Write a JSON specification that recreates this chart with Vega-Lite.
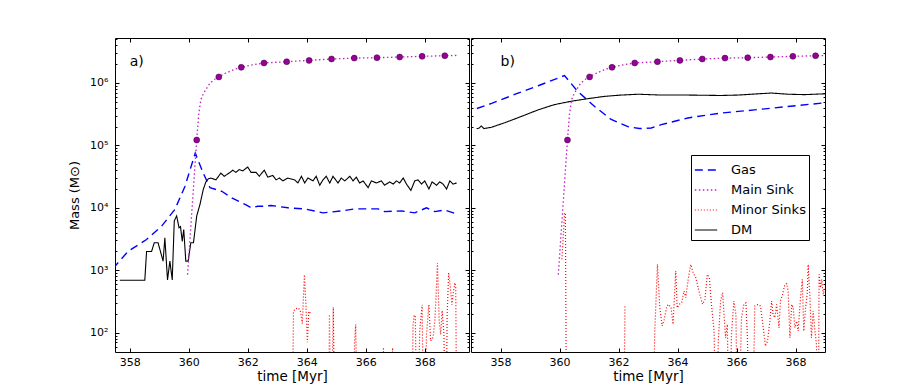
{
  "$schema": "https://vega.github.io/schema/vega-lite/v6.json",
  "padding": {"left": 68, "top": 37, "right": 5, "bottom": 5},
  "background": "white",
  "config": {
    "font": "DejaVu Sans",
    "view": {"stroke": "black", "strokeWidth": 1},
    "axis": {"grid": false, "domain": false, "tickColor": "black", "tickWidth": 1, "labelColor": "black", "titleColor": "black", "labelFont": "DejaVu Sans", "titleFont": "DejaVu Sans", "labelFontSize": 11, "titleFontSize": 13, "titleFontWeight": "normal"}
  },
  "datasets": {
    "a": [
      {"series":"Gas","seg":0,"time":357.45,"mass":1050},{"series":"Gas","seg":0,"time":357.5,"mass":1160},{"series":"Gas","seg":0,"time":357.94,"mass":2000},{"series":"Gas","seg":0,"time":358.57,"mass":3100},{"series":"Gas","seg":0,"time":359.08,"mass":5100},{"series":"Gas","seg":0,"time":359.53,"mass":9400},{"series":"Gas","seg":0,"time":359.87,"mass":22000},{"series":"Gas","seg":0,"time":360.22,"mass":75000},{"series":"Gas","seg":0,"time":360.49,"mass":36000},{"series":"Gas","seg":0,"time":360.72,"mass":21000},{"series":"Gas","seg":0,"time":361.12,"mass":18400},{"series":"Gas","seg":0,"time":361.46,"mass":14400},{"series":"Gas","seg":0,"time":361.91,"mass":11300},{"series":"Gas","seg":0,"time":362.13,"mass":10000},{"series":"Gas","seg":0,"time":362.34,"mass":10600},{"series":"Gas","seg":0,"time":362.53,"mass":10600},{"series":"Gas","seg":0,"time":362.79,"mass":10900},{"series":"Gas","seg":0,"time":363.36,"mass":10000},{"series":"Gas","seg":0,"time":363.92,"mass":9600},{"series":"Gas","seg":0,"time":364.26,"mass":8900},{"series":"Gas","seg":0,"time":364.55,"mass":8300},{"series":"Gas","seg":0,"time":365.17,"mass":8900},{"series":"Gas","seg":0,"time":365.62,"mass":9600},{"series":"Gas","seg":0,"time":366.19,"mass":9600},{"series":"Gas","seg":0,"time":366.42,"mass":9600},{"series":"Gas","seg":0,"time":366.64,"mass":8700},{"series":"Gas","seg":0,"time":367.21,"mass":8900},{"series":"Gas","seg":0,"time":367.66,"mass":8300},{"series":"Gas","seg":0,"time":368.06,"mass":10000},{"series":"Gas","seg":0,"time":368.34,"mass":8700},{"series":"Gas","seg":0,"time":368.68,"mass":9200},{"series":"Gas","seg":0,"time":369.08,"mass":8000},
      {"series":"DM","seg":0,"time":357.66,"mass":690},{"series":"DM","seg":0,"time":358.51,"mass":690},{"series":"DM","seg":0,"time":358.57,"mass":2000},{"series":"DM","seg":0,"time":358.74,"mass":2000},{"series":"DM","seg":0,"time":358.83,"mass":2750},{"series":"DM","seg":0,"time":358.96,"mass":2750},{"series":"DM","seg":0,"time":359.13,"mass":1400},{"series":"DM","seg":0,"time":359.19,"mass":3300},{"series":"DM","seg":0,"time":359.28,"mass":700},{"series":"DM","seg":0,"time":359.36,"mass":1400},{"series":"DM","seg":0,"time":359.44,"mass":700},{"series":"DM","seg":0,"time":359.51,"mass":6200},{"series":"DM","seg":0,"time":359.59,"mass":7400},{"series":"DM","seg":0,"time":359.67,"mass":4800},{"series":"DM","seg":0,"time":359.72,"mass":5000},{"series":"DM","seg":0,"time":359.78,"mass":2900},{"series":"DM","seg":0,"time":359.83,"mass":4500},{"series":"DM","seg":0,"time":359.9,"mass":1400},{"series":"DM","seg":0,"time":359.98,"mass":1400},{"series":"DM","seg":0,"time":360.07,"mass":2750},{"series":"DM","seg":0,"time":360.16,"mass":2750},{"series":"DM","seg":0,"time":360.27,"mass":7400},{"series":"DM","seg":0,"time":360.38,"mass":11300},{"series":"DM","seg":0,"time":360.49,"mass":19500},{"series":"DM","seg":0,"time":360.58,"mass":26000},{"series":"DM","seg":0,"time":360.66,"mass":29000},{"series":"DM","seg":0,"time":360.75,"mass":30000},{"series":"DM","seg":0,"time":360.92,"mass":28000},{"series":"DM","seg":0,"time":361.09,"mass":36000},{"series":"DM","seg":0,"time":361.2,"mass":32000},{"series":"DM","seg":0,"time":361.37,"mass":36000},{"series":"DM","seg":0,"time":361.49,"mass":40000},{"series":"DM","seg":0,"time":361.6,"mass":37000},{"series":"DM","seg":0,"time":361.71,"mass":41000},{"series":"DM","seg":0,"time":361.83,"mass":39000},{"series":"DM","seg":0,"time":362.0,"mass":45000},{"series":"DM","seg":0,"time":362.11,"mass":37000},{"series":"DM","seg":0,"time":362.28,"mass":37000},{"series":"DM","seg":0,"time":362.39,"mass":32000},{"series":"DM","seg":0,"time":362.56,"mass":40000},{"series":"DM","seg":0,"time":362.68,"mass":31000},{"series":"DM","seg":0,"time":362.85,"mass":33000},{"series":"DM","seg":0,"time":362.96,"mass":28000},{"series":"DM","seg":0,"time":363.07,"mass":30000},{"series":"DM","seg":0,"time":363.19,"mass":27000},{"series":"DM","seg":0,"time":363.36,"mass":30000},{"series":"DM","seg":0,"time":363.59,"mass":28000},{"series":"DM","seg":0,"time":363.7,"mass":25000},{"series":"DM","seg":0,"time":363.82,"mass":32000},{"series":"DM","seg":0,"time":363.93,"mass":25000},{"series":"DM","seg":0,"time":364.04,"mass":30000},{"series":"DM","seg":0,"time":364.21,"mass":27000},{"series":"DM","seg":0,"time":364.32,"mass":32000},{"series":"DM","seg":0,"time":364.44,"mass":23000},{"series":"DM","seg":0,"time":364.55,"mass":28000},{"series":"DM","seg":0,"time":364.66,"mass":32000},{"series":"DM","seg":0,"time":364.78,"mass":25000},{"series":"DM","seg":0,"time":364.89,"mass":32000},{"series":"DM","seg":0,"time":365.06,"mass":25000},{"series":"DM","seg":0,"time":365.17,"mass":30000},{"series":"DM","seg":0,"time":365.29,"mass":27000},{"series":"DM","seg":0,"time":365.46,"mass":32000},{"series":"DM","seg":0,"time":365.57,"mass":27000},{"series":"DM","seg":0,"time":365.68,"mass":31000},{"series":"DM","seg":0,"time":365.79,"mass":25000},{"series":"DM","seg":0,"time":365.91,"mass":27000},{"series":"DM","seg":0,"time":366.08,"mass":21000},{"series":"DM","seg":0,"time":366.19,"mass":27000},{"series":"DM","seg":0,"time":366.36,"mass":25000},{"series":"DM","seg":0,"time":366.53,"mass":27000},{"series":"DM","seg":0,"time":366.64,"mass":23000},{"series":"DM","seg":0,"time":366.81,"mass":26000},{"series":"DM","seg":0,"time":366.93,"mass":24000},{"series":"DM","seg":0,"time":367.04,"mass":27000},{"series":"DM","seg":0,"time":367.15,"mass":25000},{"series":"DM","seg":0,"time":367.27,"mass":30000},{"series":"DM","seg":0,"time":367.38,"mass":24000},{"series":"DM","seg":0,"time":367.53,"mass":19000},{"series":"DM","seg":0,"time":367.66,"mass":27000},{"series":"DM","seg":0,"time":367.77,"mass":28000},{"series":"DM","seg":0,"time":367.89,"mass":24000},{"series":"DM","seg":0,"time":368.0,"mass":27000},{"series":"DM","seg":0,"time":368.14,"mass":20000},{"series":"DM","seg":0,"time":368.25,"mass":26000},{"series":"DM","seg":0,"time":368.4,"mass":23000},{"series":"DM","seg":0,"time":368.51,"mass":26000},{"series":"DM","seg":0,"time":368.62,"mass":24000},{"series":"DM","seg":0,"time":368.74,"mass":20000},{"series":"DM","seg":0,"time":368.85,"mass":27000},{"series":"DM","seg":0,"time":368.96,"mass":24000},{"series":"DM","seg":0,"time":369.08,"mass":25000},
      {"series":"Minor Sinks","seg":1,"time":363.5,"mass":1},{"series":"Minor Sinks","seg":1,"time":363.55,"mass":220},{"series":"Minor Sinks","seg":1,"time":363.62,"mass":240},{"series":"Minor Sinks","seg":1,"time":363.7,"mass":250},{"series":"Minor Sinks","seg":1,"time":363.78,"mass":230},{"series":"Minor Sinks","seg":1,"time":363.85,"mass":140},{"series":"Minor Sinks","seg":1,"time":363.92,"mass":850},{"series":"Minor Sinks","seg":1,"time":363.97,"mass":300},{"series":"Minor Sinks","seg":1,"time":364.02,"mass":70},{"series":"Minor Sinks","seg":1,"time":364.07,"mass":220},{"series":"Minor Sinks","seg":1,"time":364.14,"mass":200},
      {"series":"Minor Sinks","seg":2,"time":364.74,"mass":1},{"series":"Minor Sinks","seg":2,"time":364.77,"mass":195},{"series":"Minor Sinks","seg":2,"time":364.82,"mass":1},{"series":"Minor Sinks","seg":2,"time":364.9,"mass":255},{"series":"Minor Sinks","seg":2,"time":364.96,"mass":1},
      {"series":"Minor Sinks","seg":3,"time":365.58,"mass":1},{"series":"Minor Sinks","seg":3,"time":365.62,"mass":70},{"series":"Minor Sinks","seg":3,"time":365.66,"mass":135},{"series":"Minor Sinks","seg":3,"time":365.72,"mass":1},
      {"series":"Minor Sinks","seg":4,"time":366.58,"mass":1},{"series":"Minor Sinks","seg":4,"time":366.6,"mass":58},{"series":"Minor Sinks","seg":4,"time":366.62,"mass":1},
      {"series":"Minor Sinks","seg":5,"time":366.89,"mass":1},{"series":"Minor Sinks","seg":5,"time":366.91,"mass":57},{"series":"Minor Sinks","seg":5,"time":366.93,"mass":1},
      {"series":"Minor Sinks","seg":6,"time":367.57,"mass":1},{"series":"Minor Sinks","seg":6,"time":367.6,"mass":128},{"series":"Minor Sinks","seg":6,"time":367.64,"mass":185},{"series":"Minor Sinks","seg":6,"time":367.68,"mass":190},{"series":"Minor Sinks","seg":6,"time":367.74,"mass":1},{"series":"Minor Sinks","seg":6,"time":367.83,"mass":107},{"series":"Minor Sinks","seg":6,"time":367.91,"mass":280},{"series":"Minor Sinks","seg":6,"time":367.97,"mass":1},{"series":"Minor Sinks","seg":6,"time":368.06,"mass":94},{"series":"Minor Sinks","seg":6,"time":368.14,"mass":280},{"series":"Minor Sinks","seg":6,"time":368.2,"mass":74},{"series":"Minor Sinks","seg":6,"time":368.28,"mass":84},{"series":"Minor Sinks","seg":6,"time":368.34,"mass":155},{"series":"Minor Sinks","seg":6,"time":368.37,"mass":280},{"series":"Minor Sinks","seg":6,"time":368.43,"mass":1300},{"series":"Minor Sinks","seg":6,"time":368.49,"mass":155},{"series":"Minor Sinks","seg":6,"time":368.54,"mass":94},{"series":"Minor Sinks","seg":6,"time":368.59,"mass":225},{"series":"Minor Sinks","seg":6,"time":368.65,"mass":94},{"series":"Minor Sinks","seg":6,"time":368.71,"mass":1},{"series":"Minor Sinks","seg":6,"time":368.76,"mass":195},{"series":"Minor Sinks","seg":6,"time":368.81,"mass":910},{"series":"Minor Sinks","seg":6,"time":368.87,"mass":525},{"series":"Minor Sinks","seg":6,"time":368.92,"mass":280},{"series":"Minor Sinks","seg":6,"time":368.96,"mass":410},{"series":"Minor Sinks","seg":6,"time":369.02,"mass":630},{"series":"Minor Sinks","seg":6,"time":369.05,"mass":525},{"series":"Minor Sinks","seg":6,"time":369.09,"mass":1}
    ],
    "b": [
      {"series":"Gas","seg":0,"time":357.2,"mass":390000},{"series":"Gas","seg":0,"time":357.7,"mass":470000},{"series":"Gas","seg":0,"time":358.5,"mass":660000},{"series":"Gas","seg":0,"time":359.3,"mass":910000},{"series":"Gas","seg":0,"time":360.11,"mass":1280000},{"series":"Gas","seg":0,"time":360.17,"mass":1310000},{"series":"Gas","seg":0,"time":360.62,"mass":730000},{"series":"Gas","seg":0,"time":361.19,"mass":420000},{"series":"Gas","seg":0,"time":361.75,"mass":260000},{"series":"Gas","seg":0,"time":362.32,"mass":200000},{"series":"Gas","seg":0,"time":362.71,"mass":186000},{"series":"Gas","seg":0,"time":363.11,"mass":190000},{"series":"Gas","seg":0,"time":363.45,"mass":215000},{"series":"Gas","seg":0,"time":364.35,"mass":275000},{"series":"Gas","seg":0,"time":365.48,"mass":330000},{"series":"Gas","seg":0,"time":366.61,"mass":370000},{"series":"Gas","seg":0,"time":367.74,"mass":420000},{"series":"Gas","seg":0,"time":368.98,"mass":480000},{"series":"Gas","seg":0,"time":369.1,"mass":490000},
      {"series":"DM","seg":0,"time":357.19,"mass":184000},{"series":"DM","seg":0,"time":357.28,"mass":190000},{"series":"DM","seg":0,"time":357.35,"mass":205000},{"series":"DM","seg":0,"time":357.44,"mass":186000},{"series":"DM","seg":0,"time":357.69,"mass":195000},{"series":"DM","seg":0,"time":358.14,"mass":230000},{"series":"DM","seg":0,"time":358.7,"mass":290000},{"series":"DM","seg":0,"time":359.27,"mass":370000},{"series":"DM","seg":0,"time":359.83,"mass":450000},{"series":"DM","seg":0,"time":360.4,"mass":510000},{"series":"DM","seg":0,"time":360.96,"mass":560000},{"series":"DM","seg":0,"time":361.53,"mass":610000},{"series":"DM","seg":0,"time":362.09,"mass":640000},{"series":"DM","seg":0,"time":362.66,"mass":660000},{"series":"DM","seg":0,"time":363.45,"mass":640000},{"series":"DM","seg":0,"time":364.35,"mass":640000},{"series":"DM","seg":0,"time":365.48,"mass":630000},{"series":"DM","seg":0,"time":366.05,"mass":640000},{"series":"DM","seg":0,"time":367.18,"mass":690000},{"series":"DM","seg":0,"time":367.74,"mass":660000},{"series":"DM","seg":0,"time":368.31,"mass":650000},{"series":"DM","seg":0,"time":369.0,"mass":670000},
      {"series":"Minor Sinks","seg":1,"time":360.08,"mass":1500},{"series":"Minor Sinks","seg":1,"time":360.12,"mass":3000},{"series":"Minor Sinks","seg":1,"time":360.17,"mass":8000},{"series":"Minor Sinks","seg":1,"time":360.2,"mass":8300},{"series":"Minor Sinks","seg":1,"time":360.24,"mass":1},
      {"series":"Minor Sinks","seg":2,"time":362.17,"mass":1},{"series":"Minor Sinks","seg":2,"time":362.22,"mass":280},
      {"series":"Minor Sinks","seg":3,"time":363.15,"mass":1},{"series":"Minor Sinks","seg":3,"time":363.23,"mass":106},{"series":"Minor Sinks","seg":3,"time":363.32,"mass":1240},{"series":"Minor Sinks","seg":3,"time":363.4,"mass":250},{"series":"Minor Sinks","seg":3,"time":363.48,"mass":128},{"series":"Minor Sinks","seg":3,"time":363.55,"mass":163},{"series":"Minor Sinks","seg":3,"time":363.63,"mass":250},{"series":"Minor Sinks","seg":3,"time":363.68,"mass":284},{"series":"Minor Sinks","seg":3,"time":363.78,"mass":257},{"series":"Minor Sinks","seg":3,"time":363.85,"mass":136},{"series":"Minor Sinks","seg":3,"time":363.94,"mass":970},{"series":"Minor Sinks","seg":3,"time":363.99,"mass":250},{"series":"Minor Sinks","seg":3,"time":364.06,"mass":284},{"series":"Minor Sinks","seg":3,"time":364.14,"mass":300},{"series":"Minor Sinks","seg":3,"time":364.22,"mass":464},{"series":"Minor Sinks","seg":3,"time":364.28,"mass":363},{"series":"Minor Sinks","seg":3,"time":364.37,"mass":760},{"series":"Minor Sinks","seg":3,"time":364.45,"mass":1240},{"series":"Minor Sinks","seg":3,"time":364.53,"mass":912},{"series":"Minor Sinks","seg":3,"time":364.62,"mass":760},{"series":"Minor Sinks","seg":3,"time":364.74,"mass":437},{"series":"Minor Sinks","seg":3,"time":364.85,"mass":284},{"series":"Minor Sinks","seg":3,"time":364.93,"mass":341},{"series":"Minor Sinks","seg":3,"time":365.01,"mass":857},{"series":"Minor Sinks","seg":3,"time":365.08,"mass":760},{"series":"Minor Sinks","seg":3,"time":365.15,"mass":284},{"series":"Minor Sinks","seg":3,"time":365.24,"mass":106},{"series":"Minor Sinks","seg":3,"time":365.32,"mass":1},{"series":"Minor Sinks","seg":3,"time":365.38,"mass":69},{"series":"Minor Sinks","seg":3,"time":365.46,"mass":321},{"series":"Minor Sinks","seg":3,"time":365.53,"mass":437},{"series":"Minor Sinks","seg":3,"time":365.57,"mass":222},{"series":"Minor Sinks","seg":3,"time":365.63,"mass":83},{"series":"Minor Sinks","seg":3,"time":365.69,"mass":136},{"series":"Minor Sinks","seg":3,"time":365.75,"mass":1},{"series":"Minor Sinks","seg":3,"time":365.83,"mass":94},{"series":"Minor Sinks","seg":3,"time":365.91,"mass":321},{"series":"Minor Sinks","seg":3,"time":365.98,"mass":196},{"series":"Minor Sinks","seg":3,"time":366.05,"mass":1},{"series":"Minor Sinks","seg":3,"time":366.17,"mass":174},{"series":"Minor Sinks","seg":3,"time":366.25,"mass":284},{"series":"Minor Sinks","seg":3,"time":366.32,"mass":300},{"series":"Minor Sinks","seg":3,"time":366.37,"mass":83},{"series":"Minor Sinks","seg":3,"time":366.45,"mass":1},{"series":"Minor Sinks","seg":3,"time":366.53,"mass":1},{"series":"Minor Sinks","seg":3,"time":366.62,"mass":267},{"series":"Minor Sinks","seg":3,"time":366.73,"mass":284},{"series":"Minor Sinks","seg":3,"time":366.81,"mass":267},{"series":"Minor Sinks","seg":3,"time":366.9,"mass":128},{"series":"Minor Sinks","seg":3,"time":366.98,"mass":61},{"series":"Minor Sinks","seg":3,"time":367.05,"mass":73},{"series":"Minor Sinks","seg":3,"time":367.13,"mass":153},{"series":"Minor Sinks","seg":3,"time":367.19,"mass":321},{"series":"Minor Sinks","seg":3,"time":367.24,"mass":196},{"series":"Minor Sinks","seg":3,"time":367.3,"mass":174},{"series":"Minor Sinks","seg":3,"time":367.36,"mass":284},{"series":"Minor Sinks","seg":3,"time":367.44,"mass":120},{"series":"Minor Sinks","seg":3,"time":367.49,"mass":321},{"series":"Minor Sinks","seg":3,"time":367.56,"mass":410},{"series":"Minor Sinks","seg":3,"time":367.64,"mass":593},{"series":"Minor Sinks","seg":3,"time":367.7,"mass":610},{"series":"Minor Sinks","seg":3,"time":367.75,"mass":464},{"series":"Minor Sinks","seg":3,"time":367.81,"mass":83},{"series":"Minor Sinks","seg":3,"time":367.87,"mass":284},{"series":"Minor Sinks","seg":3,"time":367.92,"mass":250},{"series":"Minor Sinks","seg":3,"time":367.98,"mass":120},{"series":"Minor Sinks","seg":3,"time":368.04,"mass":153},{"series":"Minor Sinks","seg":3,"time":368.09,"mass":106},{"series":"Minor Sinks","seg":3,"time":368.17,"mass":363},{"series":"Minor Sinks","seg":3,"time":368.23,"mass":713},{"series":"Minor Sinks","seg":3,"time":368.28,"mass":106},{"series":"Minor Sinks","seg":3,"time":368.34,"mass":250},{"series":"Minor Sinks","seg":3,"time":368.4,"mass":437},{"series":"Minor Sinks","seg":3,"time":368.43,"mass":1240},{"series":"Minor Sinks","seg":3,"time":368.49,"mass":363},{"series":"Minor Sinks","seg":3,"time":368.54,"mass":83},{"series":"Minor Sinks","seg":3,"time":368.6,"mass":222},{"series":"Minor Sinks","seg":3,"time":368.66,"mass":106},{"series":"Minor Sinks","seg":3,"time":368.71,"mass":65},{"series":"Minor Sinks","seg":3,"time":368.77,"mass":1},{"series":"Minor Sinks","seg":3,"time":368.8,"mass":857},{"series":"Minor Sinks","seg":3,"time":368.85,"mass":525},{"series":"Minor Sinks","seg":3,"time":368.89,"mass":713},{"series":"Minor Sinks","seg":3,"time":368.94,"mass":410},{"series":"Minor Sinks","seg":3,"time":369.0,"mass":525},{"series":"Minor Sinks","seg":3,"time":369.05,"mass":600}
    ],
    "ms": [
      {"series":"Main Sink","seg":0,"time":359.96,"mass":850,"mk":0},{"series":"Main Sink","seg":0,"time":360.05,"mass":3600,"mk":0},{"series":"Main Sink","seg":0,"time":360.12,"mass":11000,"mk":0},{"series":"Main Sink","seg":0,"time":360.2,"mass":40000,"mk":0},{"series":"Main Sink","seg":0,"time":360.27,"mass":122000,"mk":1},{"series":"Main Sink","seg":0,"time":360.34,"mass":320000,"mk":0},{"series":"Main Sink","seg":0,"time":360.41,"mass":540000,"mk":0},{"series":"Main Sink","seg":0,"time":360.5,"mass":680000,"mk":0},{"series":"Main Sink","seg":0,"time":360.58,"mass":780000,"mk":0},{"series":"Main Sink","seg":0,"time":360.67,"mass":920000,"mk":0},{"series":"Main Sink","seg":0,"time":360.75,"mass":1020000,"mk":0},{"series":"Main Sink","seg":0,"time":360.88,"mass":1150000,"mk":0},{"series":"Main Sink","seg":0,"time":361.02,"mass":1250000,"mk":1},{"series":"Main Sink","seg":0,"time":361.2,"mass":1400000,"mk":0},{"series":"Main Sink","seg":0,"time":361.43,"mass":1560000,"mk":0},{"series":"Main Sink","seg":0,"time":361.6,"mass":1680000,"mk":0},{"series":"Main Sink","seg":0,"time":361.78,"mass":1780000,"mk":1},{"series":"Main Sink","seg":0,"time":362.15,"mass":1950000,"mk":0},{"series":"Main Sink","seg":0,"time":362.55,"mass":2090000,"mk":1},{"series":"Main Sink","seg":0,"time":363.32,"mass":2190000,"mk":1},{"series":"Main Sink","seg":0,"time":364.08,"mass":2300000,"mk":1},{"series":"Main Sink","seg":0,"time":364.84,"mass":2420000,"mk":1},{"series":"Main Sink","seg":0,"time":365.61,"mass":2500000,"mk":1},{"series":"Main Sink","seg":0,"time":366.38,"mass":2540000,"mk":1},{"series":"Main Sink","seg":0,"time":367.15,"mass":2600000,"mk":1},{"series":"Main Sink","seg":0,"time":367.91,"mass":2670000,"mk":1},{"series":"Main Sink","seg":0,"time":368.68,"mass":2730000,"mk":1},{"series":"Main Sink","seg":0,"time":369.1,"mass":2760000,"mk":0}
    ]
  },
  "spacing": 0,
  "hconcat": [
    {
      "width": 354,
      "height": 314,
      "layer": [
        {
          "data": {"name": "a"},
          "mark": {"type": "line", "clip": true},
          "encoding": {
            "x": {"field": "time", "type": "quantitative", "scale": {"domain": [357.5, 369.5], "nice": false, "zero": false}, "axis": {"orient": "bottom", "values": [358, 360, 362, 364, 366, 368], "tickSize": -4, "labelPadding": 8, "labelFlush": false, "title": "time [Myr]", "titlePadding": 2, "titleFontSize": 13.5}},
            "y": {"field": "mass", "type": "quantitative", "scale": {"type": "log", "domain": [49, 5250000], "nice": false}, "axis": {"orient": "left", "values": [100, 1000, 10000, 100000, 1000000], "tickSize": -4, "labelPadding": 11, "labelExpr": "'10' + ['⁰','¹','²','³','⁴','⁵','⁶','⁷'][round(log(datum.value)/LN10)]", "title": "Mass (M⊙)", "titlePadding": 8}},
            "color": {"field": "series", "type": "nominal", "scale": {"domain": ["Gas", "Main Sink", "Minor Sinks", "DM"], "range": ["#0000ff", "#c020c0", "#ff0000", "#000000"]}, "legend": null},
            "strokeDash": {"field": "series", "type": "nominal", "scale": {"domain": ["Gas", "Main Sink", "Minor Sinks", "DM"], "range": [[8, 5], [1.5, 2.5], [1, 2], [1, 0]]}, "legend": null},
            "strokeWidth": {"field": "series", "type": "nominal", "scale": {"domain": ["Gas", "Main Sink", "Minor Sinks", "DM"], "range": [1.4, 1.1, 1.1, 1.1]}, "legend": null},
            "detail": {"field": "seg", "type": "nominal"}
          }
        },
        {
          "data": {"name": "ms"},
          "mark": {"type": "line", "clip": true},
          "encoding": {
            "x": {"field": "time", "type": "quantitative", "axis": {"orient": "top", "values": [358, 360, 362, 364, 366, 368], "tickSize": -4, "labels": false, "title": null}},
            "y": {"field": "mass", "type": "quantitative", "axis": {"orient": "right", "values": [100, 1000, 10000, 100000, 1000000], "tickSize": -4, "labels": false, "title": null}},
            "color": {"field": "series", "type": "nominal", "legend": null},
            "strokeDash": {"field": "series", "type": "nominal", "legend": null},
            "strokeWidth": {"field": "series", "type": "nominal", "legend": null}
          }
        },
        {
          "data": {"name": "ms"},
          "transform": [{"filter": "datum.mk == 1"}],
          "mark": {"type": "circle", "clip": true, "size": 36, "fill": "#990099", "stroke": "#330033", "strokeWidth": 0.5, "opacity": 1},
          "encoding": {
            "x": {"field": "time", "type": "quantitative", "axis": null},
            "y": {"field": "mass", "type": "quantitative", "axis": {"orient": "left", "values": [60, 70, 80, 90, 200, 300, 400, 500, 600, 700, 800, 900, 2000, 3000, 4000, 5000, 6000, 7000, 8000, 9000, 20000, 30000, 40000, 50000, 60000, 70000, 80000, 90000, 200000, 300000, 400000, 500000, 600000, 700000, 800000, 900000, 2000000, 3000000, 4000000, 5000000], "tickSize": -2, "labels": false, "title": null}}
          }
        },
        {
          "data": {"values": [{"time": 358, "mass": 1900000, "label": "a)"}]},
          "mark": {"type": "text", "align": "left", "baseline": "alphabetic", "fontSize": 14, "font": "DejaVu Sans", "color": "black"},
          "encoding": {
            "x": {"field": "time", "type": "quantitative", "axis": null},
            "y": {"field": "mass", "type": "quantitative", "axis": {"orient": "right", "values": [60, 70, 80, 90, 200, 300, 400, 500, 600, 700, 800, 900, 2000, 3000, 4000, 5000, 6000, 7000, 8000, 9000, 20000, 30000, 40000, 50000, 60000, 70000, 80000, 90000, 200000, 300000, 400000, 500000, 600000, 700000, 800000, 900000, 2000000, 3000000, 4000000, 5000000], "tickSize": -2, "labels": false, "title": null}},
            "text": {"field": "label"}
          }
        }
      ],
      "resolve": {"axis": {"x": "independent", "y": "independent"}}
    },
    {
      "width": 354,
      "height": 314,
      "layer": [
        {
          "data": {"name": "b"},
          "mark": {"type": "line", "clip": true},
          "encoding": {
            "x": {"field": "time", "type": "quantitative", "scale": {"domain": [357, 369], "nice": false, "zero": false}, "axis": {"orient": "bottom", "values": [358, 360, 362, 364, 366, 368], "tickSize": -4, "labelPadding": 8, "labelFlush": false, "title": "time [Myr]", "titlePadding": 2, "titleFontSize": 13.5}},
            "y": {"field": "mass", "type": "quantitative", "scale": {"type": "log", "domain": [49, 5250000], "nice": false}, "axis": {"orient": "left", "values": [100, 1000, 10000, 100000, 1000000], "tickSize": -4, "labels": false, "title": null}},
            "color": {"field": "series", "type": "nominal", "scale": {"domain": ["Gas", "Main Sink", "Minor Sinks", "DM"], "range": ["#0000ff", "#c020c0", "#ff0000", "#000000"]}, "legend": {"orient": "none", "legendX": 220, "legendY": 117, "title": null, "symbolType": "stroke", "symbolSize": 500, "labelFontSize": 13, "labelFont": "DejaVu Sans", "labelColor": "black", "strokeColor": "black", "fillColor": "white", "padding": 3, "rowPadding": 1, "labelOffset": 13, "cornerRadius": 0}},
            "strokeDash": {"field": "series", "type": "nominal", "scale": {"domain": ["Gas", "Main Sink", "Minor Sinks", "DM"], "range": [[8, 5], [1.5, 2.5], [1, 2], [1, 0]]}},
            "strokeWidth": {"field": "series", "type": "nominal", "scale": {"domain": ["Gas", "Main Sink", "Minor Sinks", "DM"], "range": [1.4, 1.1, 1.1, 1.1]}},
            "detail": {"field": "seg", "type": "nominal"}
          }
        },
        {
          "data": {"name": "ms"},
          "mark": {"type": "line", "clip": true},
          "encoding": {
            "x": {"field": "time", "type": "quantitative", "axis": {"orient": "top", "values": [358, 360, 362, 364, 366, 368], "tickSize": -4, "labels": false, "title": null}},
            "y": {"field": "mass", "type": "quantitative", "axis": {"orient": "right", "values": [100, 1000, 10000, 100000, 1000000], "tickSize": -4, "labels": false, "title": null}},
            "color": {"field": "series", "type": "nominal"},
            "strokeDash": {"field": "series", "type": "nominal"},
            "strokeWidth": {"field": "series", "type": "nominal"}
          }
        },
        {
          "data": {"name": "ms"},
          "transform": [{"filter": "datum.mk == 1"}],
          "mark": {"type": "circle", "clip": true, "size": 36, "fill": "#990099", "stroke": "#330033", "strokeWidth": 0.5, "opacity": 1},
          "encoding": {
            "x": {"field": "time", "type": "quantitative", "axis": null},
            "y": {"field": "mass", "type": "quantitative", "axis": {"orient": "left", "values": [60, 70, 80, 90, 200, 300, 400, 500, 600, 700, 800, 900, 2000, 3000, 4000, 5000, 6000, 7000, 8000, 9000, 20000, 30000, 40000, 50000, 60000, 70000, 80000, 90000, 200000, 300000, 400000, 500000, 600000, 700000, 800000, 900000, 2000000, 3000000, 4000000, 5000000], "tickSize": -2, "labels": false, "title": null}}
          }
        },
        {
          "data": {"values": [{"time": 358, "mass": 1900000, "label": "b)"}]},
          "mark": {"type": "text", "align": "left", "baseline": "alphabetic", "fontSize": 14, "font": "DejaVu Sans", "color": "black"},
          "encoding": {
            "x": {"field": "time", "type": "quantitative", "axis": null},
            "y": {"field": "mass", "type": "quantitative", "axis": {"orient": "right", "values": [60, 70, 80, 90, 200, 300, 400, 500, 600, 700, 800, 900, 2000, 3000, 4000, 5000, 6000, 7000, 8000, 9000, 20000, 30000, 40000, 50000, 60000, 70000, 80000, 90000, 200000, 300000, 400000, 500000, 600000, 700000, 800000, 900000, 2000000, 3000000, 4000000, 5000000], "tickSize": -2, "labels": false, "title": null}},
            "text": {"field": "label"}
          }
        }
      ],
      "resolve": {"axis": {"x": "independent", "y": "independent"}}
    }
  ],
  "resolve": {"scale": {"x": "independent", "y": "independent", "color": "independent", "strokeDash": "independent", "strokeWidth": "independent"}}
}
